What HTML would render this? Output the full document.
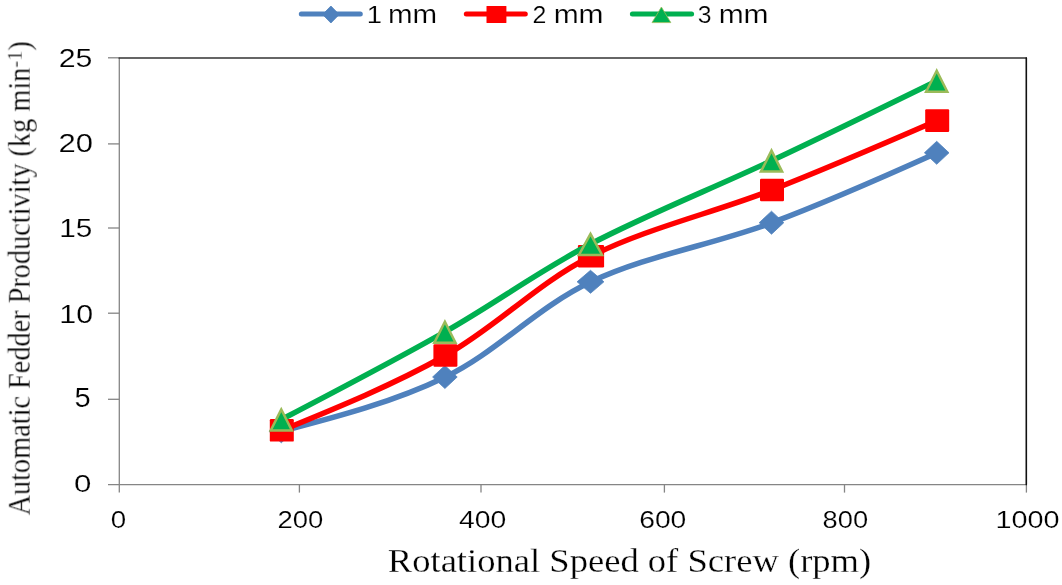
<!DOCTYPE html><html><head><meta charset="utf-8"><style>html,body{margin:0;padding:0;background:#fff}svg{display:block}</style></head><body><svg width="1062" height="585" viewBox="0 0 1062 585">
<rect width="1062" height="585" fill="#fff"/>
<g stroke="#858585" stroke-width="1.3" fill="none">
<path d="M119.3,57.8 V492.6"/>
<path d="M108,484.6 H1026.4"/>
<path d="M299.4,484.6 V492.6"/>
<path d="M481.0,484.6 V492.6"/>
<path d="M664.4,484.6 V492.6"/>
<path d="M844.5,484.6 V492.6"/>
<path d="M1026.4,484.6 V492.6"/>
<path d="M108,57.8 H119.3"/>
<path d="M108,143.9 H119.3"/>
<path d="M108,228.0 H119.3"/>
<path d="M108,313.2 H119.3"/>
<path d="M108,399.3 H119.3"/>
</g>
<path d="M119.3,58.0 H1026.3" stroke="#333" stroke-width="1.7" fill="none" stroke-linecap="round"/>
<path d="M1026.3,58.0 V484.6" stroke="#111" stroke-width="1.6" fill="none" stroke-linecap="round"/>
<path d="M281.80,431.30 C337.83,416.61 393.87,401.92 445.40,377.00 C496.93,352.08 536.57,307.52 591.00,281.80 C645.43,256.08 714.30,244.20 772.00,222.70 C829.70,201.20 883.45,177.00 937.20,152.80" stroke="#4F81BD" stroke-width="5.5" fill="none" stroke-linecap="round"/>
<path d="M269.0,431.3 l12.30,-11.5 l12.30,11.5 l-12.30,11.5z" fill="#4F81BD" stroke="#4F81BD" stroke-width="0.8"/>
<path d="M432.6,377.0 l12.30,-11.5 l12.30,11.5 l-12.30,11.5z" fill="#4F81BD" stroke="#4F81BD" stroke-width="0.8"/>
<path d="M577.1,281.8 l13.41,-11.5 l13.41,11.5 l-13.41,11.5z" fill="#4F81BD" stroke="#4F81BD" stroke-width="0.8"/>
<path d="M759.2,222.7 l12.30,-11.5 l12.30,11.5 l-12.30,11.5z" fill="#4F81BD" stroke="#4F81BD" stroke-width="0.8"/>
<path d="M924.4,152.8 l12.30,-11.5 l12.30,11.5 l-12.30,11.5z" fill="#4F81BD" stroke="#4F81BD" stroke-width="0.8"/>
<path d="M281.80,430.30 C337.83,407.41 393.87,384.52 445.40,355.50 C496.93,326.48 536.57,283.78 591.00,256.20 C645.43,228.62 714.30,212.60 772.00,190.00 C829.70,167.40 883.45,144.00 937.20,120.60" stroke="#FF0000" stroke-width="5.5" fill="none" stroke-linecap="round"/>
<rect x="269.8" y="419.0" width="24.0" height="22.6" rx="1.2" fill="#FF0000"/>
<rect x="433.4" y="344.2" width="24.0" height="22.6" rx="1.2" fill="#FF0000"/>
<rect x="577.9" y="244.9" width="26.2" height="22.6" rx="1.2" fill="#FF0000"/>
<rect x="760.0" y="178.7" width="24.0" height="22.6" rx="1.2" fill="#FF0000"/>
<rect x="925.2" y="109.3" width="24.0" height="22.6" rx="1.2" fill="#FF0000"/>
<path d="M281.80,419.30 C337.83,390.08 393.87,360.85 445.40,331.60 C496.93,302.35 536.57,272.32 591.00,243.80 C645.43,215.28 714.30,187.68 772.00,160.50 C829.70,133.32 883.45,107.01 937.20,80.70" stroke="#00B050" stroke-width="5.5" fill="none" stroke-linecap="round"/>
<path d="M281.3,409.4 l-10.60,21 h21.20z" fill="#00B050" stroke="#9BBB59" stroke-width="2.5" stroke-linejoin="miter"/>
<path d="M444.9,321.7 l-10.60,21 h21.20z" fill="#00B050" stroke="#9BBB59" stroke-width="2.5" stroke-linejoin="miter"/>
<path d="M590.5,233.9 l-11.55,21 h23.11z" fill="#00B050" stroke="#9BBB59" stroke-width="2.5" stroke-linejoin="miter"/>
<path d="M771.5,150.6 l-10.60,21 h21.20z" fill="#00B050" stroke="#9BBB59" stroke-width="2.5" stroke-linejoin="miter"/>
<path d="M936.7,70.8 l-10.60,21 h21.20z" fill="#00B050" stroke="#9BBB59" stroke-width="2.5" stroke-linejoin="miter"/>
<path d="M301.3,13.9 H360.3" stroke="#4F81BD" stroke-width="5.0" stroke-linecap="round"/>
<path d="M322.6,14.5 l8.3,-8.5 l8.3,8.5 l-8.3,8.5z" fill="#4F81BD" stroke="#4F81BD" stroke-width="0.8"/>
<path d="M466.3,13.9 H525.3" stroke="#FF0000" stroke-width="5.0" stroke-linecap="round"/>
<rect x="486.5" y="6" width="19.9" height="17" rx="0.6" fill="#FF0000"/>
<path d="M632.4,13.9 H691.6" stroke="#00B050" stroke-width="5.0" stroke-linecap="round"/>
<path d="M661.4,7.0 l-9.4,15.6 h18.8z" fill="#00B050" stroke="#9BBB59" stroke-width="0.8"/>
<g opacity="0.999">
<text transform="translate(366.70,23.00) scale(1.1429,1.0303)" font-family="Liberation Sans, sans-serif" font-size="24" fill="#000" stroke="#fff" stroke-width="0.18" paint-order="fill stroke">1</text>
<text transform="translate(387.96,23.00) scale(1.2297,1.0769)" font-family="Liberation Sans, sans-serif" font-size="24" fill="#000" stroke="#fff" stroke-width="0.18" paint-order="fill stroke">mm</text>
<text transform="translate(532.60,22.90) scale(1.0364,1.0149)" font-family="Liberation Sans, sans-serif" font-size="24" fill="#000" stroke="#fff" stroke-width="0.18" paint-order="fill stroke">2</text>
<text transform="translate(553.63,23.00) scale(1.2486,1.0769)" font-family="Liberation Sans, sans-serif" font-size="24" fill="#000" stroke="#fff" stroke-width="0.18" paint-order="fill stroke">mm</text>
<text transform="translate(697.67,22.85) scale(1.0311,1.0118)" font-family="Liberation Sans, sans-serif" font-size="24" fill="#000" stroke="#fff" stroke-width="0.18" paint-order="fill stroke">3</text>
<text transform="translate(718.63,23.00) scale(1.2486,1.0769)" font-family="Liberation Sans, sans-serif" font-size="24" fill="#000" stroke="#fff" stroke-width="0.18" paint-order="fill stroke">mm</text>
<text transform="translate(58.64,67.25) scale(1.1660,1.0027)" font-family="Liberation Sans, sans-serif" font-size="26" fill="#000" stroke="#fff" stroke-width="0.18" paint-order="fill stroke">25</text>
<text transform="translate(58.61,151.54) scale(1.1925,1.0247)" font-family="Liberation Sans, sans-serif" font-size="26" fill="#000" stroke="#fff" stroke-width="0.18" paint-order="fill stroke">20</text>
<text transform="translate(59.31,236.75) scale(1.1456,0.9889)" font-family="Liberation Sans, sans-serif" font-size="26" fill="#000" stroke="#fff" stroke-width="0.18" paint-order="fill stroke">15</text>
<text transform="translate(59.26,322.75) scale(1.1689,1.0082)" font-family="Liberation Sans, sans-serif" font-size="26" fill="#000" stroke="#fff" stroke-width="0.18" paint-order="fill stroke">10</text>
<text transform="translate(74.48,406.54) scale(1.1184,1.0333)" font-family="Liberation Sans, sans-serif" font-size="26" fill="#000" stroke="#fff" stroke-width="0.18" paint-order="fill stroke">5</text>
<text transform="translate(74.10,491.76) scale(1.2000,0.9534)" font-family="Liberation Sans, sans-serif" font-size="26" fill="#000" stroke="#fff" stroke-width="0.18" paint-order="fill stroke">0</text>
<text transform="translate(110.79,528.36) scale(1.1083,0.9746)" font-family="Liberation Sans, sans-serif" font-size="25" fill="#000" stroke="#fff" stroke-width="0.18" paint-order="fill stroke">0</text>
<text transform="translate(277.53,528.45) scale(1.0987,0.9803)" font-family="Liberation Sans, sans-serif" font-size="25" fill="#000" stroke="#fff" stroke-width="0.18" paint-order="fill stroke">200</text>
<text transform="translate(459.03,528.36) scale(1.1329,0.9746)" font-family="Liberation Sans, sans-serif" font-size="25" fill="#000" stroke="#fff" stroke-width="0.18" paint-order="fill stroke">400</text>
<text transform="translate(639.19,528.45) scale(1.1291,0.9803)" font-family="Liberation Sans, sans-serif" font-size="25" fill="#000" stroke="#fff" stroke-width="0.18" paint-order="fill stroke">600</text>
<text transform="translate(822.61,528.36) scale(1.0918,0.9746)" font-family="Liberation Sans, sans-serif" font-size="25" fill="#000" stroke="#fff" stroke-width="0.18" paint-order="fill stroke">800</text>
<text transform="translate(995.40,528.46) scale(1.1524,0.9690)" font-family="Liberation Sans, sans-serif" font-size="25" fill="#000" stroke="#fff" stroke-width="0.18" paint-order="fill stroke">1000</text>
<text transform="translate(387.79,572.10) scale(1.1089,1.0281)" font-family="Liberation Serif, serif" font-size="33" fill="#000" stroke="#fff" stroke-width="0.25" paint-order="fill stroke">Rotational Speed of Screw (rpm)</text>
<text transform="rotate(-90) translate(-515.43,29.80) scale(0.9275,1.0000)" font-family="Liberation Serif, serif" font-size="30.5" fill="#000" stroke="#fff" stroke-width="0.25" paint-order="fill stroke">Automatic Fedder Productivity (kg min<tspan font-size="22" dy="-7.8">-1</tspan><tspan dy="7.8">)</tspan></text>
</g>
</svg></body></html>
